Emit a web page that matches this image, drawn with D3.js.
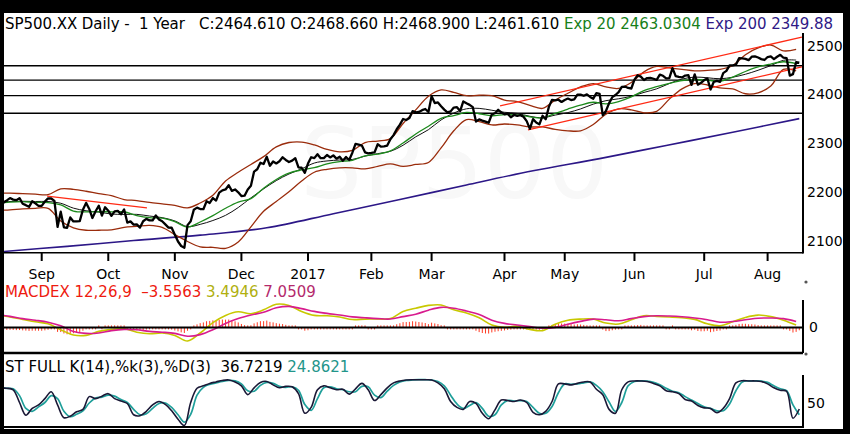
<!DOCTYPE html>
<html>
<head>
<meta charset="utf-8">
<script src="https://cdn.jsdelivr.net/npm/d3@7/dist/d3.min.js"></script>
<style>
body { margin: 0; background: #000; }
svg { display: block; font-family: "DejaVu Sans", sans-serif; }
text { white-space: pre; }
</style>
</head>
<body>
<svg id="chart" width="850" height="434"></svg>
<script>
// daily closes, 15 Aug 2016 .. 15 Aug 2017 (one per trading day)
var closes = [
  2190.15,2178.15,2182.22,2187.02,2183.87,2182.64,2186.90,2175.44,2172.47,2169.04,2180.38,2176.12,2170.95,
  2170.86,2179.98,2186.48,2186.16,2181.30,2127.81,2159.04,2127.02,2125.77,2147.26,2139.16,2139.12,2139.76,2163.12,2177.18,2164.69,2146.10,2159.93,2171.37,2151.13,2168.27,
  2161.20,2150.49,2159.73,2160.77,2153.74,2163.66,2136.73,2139.18,2132.55,2132.98,2126.50,2139.60,2144.29,2141.34,2141.16,2151.33,2143.16,2139.43,2133.04,2126.41,2126.15,
  2111.72,2097.94,2088.66,2085.18,2131.52,2139.56,2163.26,2167.48,2164.45,2164.20,2180.39,2176.94,2187.12,2181.90,2198.18,2202.94,2204.72,2213.35,2201.72,2204.66,2198.81,
  2191.08,2191.95,2204.71,2212.23,2241.35,2246.19,2259.53,2256.96,2271.72,2253.28,2262.03,2258.07,2262.53,2270.76,2265.18,2260.96,2263.79,2268.88,2249.92,2249.26,2238.83,
  2257.83,2270.75,2269.00,2276.98,2268.90,2268.90,2275.32,2270.44,2274.64,2267.89,2271.89,2263.69,2271.31,2265.20,2280.07,2298.37,2296.68,2294.69,2280.90,2278.87,
  2279.55,2280.85,2297.42,2292.56,2293.08,2294.67,2307.87,2316.10,2328.25,2337.58,2349.25,2347.22,2351.16,2365.38,2362.82,2363.81,2367.34,2369.75,2363.64,
  2395.96,2381.92,2383.12,2375.31,2368.39,2362.98,2364.87,2372.60,2373.47,2365.45,2385.26,2381.38,2378.25,2373.47,2344.02,2348.45,2345.96,2343.98,2341.59,2358.57,2361.13,2368.06,2362.72,
  2358.84,2360.16,2352.95,2357.49,2355.54,2357.16,2353.78,2344.93,2328.95,2349.01,2342.19,2338.17,2355.84,2348.69,2374.15,2388.61,2387.45,2388.77,2384.20,
  2388.33,2391.17,2388.13,2389.52,2399.29,2399.38,2396.92,2399.63,2394.44,2390.90,2402.32,2400.67,2357.03,2365.72,2381.73,2394.02,2398.42,2404.39,2415.07,2415.82,2412.91,2411.80,
  2430.06,2439.07,2436.10,2429.33,2433.14,2433.79,2431.77,2429.39,2440.35,2437.92,2432.46,2433.15,2453.46,2437.03,2435.61,2434.50,2438.30,2439.07,2419.38,2440.69,2419.70,2423.41,
  2429.01,2432.54,2409.75,2425.18,2427.43,2425.53,2443.25,2447.83,2459.27,2459.14,2460.61,2473.83,2473.45,2472.54,2469.91,2477.13,2477.83,2475.42,2472.10,2470.30,
  2476.35,2477.57,2472.16,2476.83,2480.91,2474.92,2474.02,2438.21,2441.32,2465.84,2464.61
];

var monthLabels = ["Sep","Oct","Nov","Dec","2017","Feb","Mar","Apr","May","Jun","Jul","Aug"];
var monthStart = [13,34,55,76,97,117,136,159,178,200,222,242];   // trading-day index of 1st session
var priceTicks = [2100,2200,2300,2400,2500];
var levels = [2458.5,2429,2397,2361];

// band / average series read every 4 sessions, starting at index -1
var bandStart = -1, bandStep = 4;
var sma20 = [2179,2180,2180.5,2180,2180,2176.4,2166.4,2161.0,2158.2,2154.3,2153.5,2153.6,2150.2,2146.9,2140.2,2128.4,
  2133.1,2141.0,2151.6,2167.6,2187.5,2205.9,2222.8,2236.4,2247.0,2258.9,2263.2,2265.1,2266.2,2273.1,2278.1,2283.0,
  2295.4,2312.7,2327.3,2347.3,2361.4,2370.1,2371.0,2367.2,2363.0,2360.8,2354.8,2351.8,2357.3,2362.4,2369.9,2379.7,
  2386.8,2390.7,2395.9,2403.8,2411.1,2422.0,2431.1,2435.2,2433.8,2431.8,2435.0,2441.0,2449.2,2458.7,2469.6,2470.1];
var ema20 = [2176,2178.8,2179.9,2178.1,2177.8,2173.1,2160.5,2158.6,2159.2,2158.7,2159.0,2151.2,2146.8,2145.8,2138.7,2127.6,
  2137.9,2150.9,2166.1,2178.8,2185.8,2207.3,2225.1,2238.2,2244.7,2249.5,2257.1,2261.8,2264.5,2273.8,2277.2,2283.7,
  2299.9,2318.6,2334.3,2350.7,2356.1,2362.8,2360,2355.9,2358.1,2357.6,2353.8,2351.3,2360.7,2369.7,2377.8,2383.6,
  2380.3,2385.0,2394.5,2407.4,2415.5,2422.3,2428.2,2430.2,2428.9,2426.6,2435.1,2446.7,2456.1,2462.0,2466.7,2463.0];
var bbUpper = [2197,2197,2196,2195,2194,2206,2205,2201,2196,2192,2184,2182,2178,2175,2172,2167,
  2177,2193,2222,2240,2256,2272,2292,2301,2302,2296,2287,2282,2285,2301,2304,2309,
  2340,2368,2396,2409,2404,2397,2398,2397,2388,2385,2377,2371,2388,2402,2415,2422,
  2415,2412,2424,2446,2457,2454,2451,2448,2449,2451,2459,2481,2495,2501,2489,2492];
var bbLower = [2162,2163,2165,2166,2166,2140,2126,2121,2121,2122,2127,2129,2131,2127,2112,2098,
  2087,2086,2084,2097,2128,2160,2180,2200,2222,2240,2246,2249,2249,2247,2252,2257,
  2252,2256,2260,2290,2325,2348,2344,2337,2339,2337,2333,2333,2328,2325,2325,2338,
  2359,2370,2368,2362,2365,2390,2411,2422,2419,2413,2411,2401,2403,2417,2451,2448];

// 200-day exponential average, read every 21 sessions
var ema200Step = 21;
var ema200 = [2077,2088,2100,2111,2126,2155,2184,2214,2243,2268,2295,2322,2350];

// trend lines: [startIndex, startValue, endIndex, endValue]
var trendLines = [
  [157.6,2376,252.8,2517],
  [166.4,2327,252.8,2456],
  [14.7,2191,46.2,2167]
];

// MACD 12,26,9 read every 4 sessions from index -1
var macdLine = [15.5,13,10,7,4.5,-3,-9.5,-10,-5,-2.5,-1.5,-6,-8,-7,-10,-17,
  -7,6,15,19.5,17,22,29,27.5,20,15,14.6,13,9.8,10.4,10.5,11,
  20,24,27.5,28,22,18,12,3,0,1.5,-2.5,-4,4,9,10.4,10.4,
  5.4,4.2,9.5,14.6,13.8,13,12,10,4.5,2,7,12.5,15.4,13.5,9,3];
var macdSignal = [16,13.8,11,9,6.5,2,-5,-7.5,-7,-4,-2.5,-3,-5,-6,-7.5,-11,
  -9,-3,5,11,15.4,19,24.5,26.3,23.5,20,17.5,15.5,13.2,12,11,10.5,
  13.5,16.5,21.5,25,24,20.5,16,9,5,3,1,-1,0,4,7.5,10.4,
  9.5,8.3,11,13.5,14.6,14.2,13.3,11.8,9.6,6.5,7.4,9.5,11.5,11.8,11,7.5];
// histogram, one bar per session
var macdHist = [
  -2.6,-3.0,-3.2,-3.1,-3.2,-3.4,-3.3,-3.7,-4.0,-4.4,-4.1,-4.1,-4.2,
  -4.2,-3.7,-3.0,-2.5,-2.4,-5.6,-5.8,-7.6,-8.6,-7.8,-7.3,-6.7,-6.0,-4.2,-2.2,-1.6,-2.0,-1.1,0.4,-0.2,0.7,
  0.9,0.3,0.5,0.7,0.3,0.7,-1.3,-2.2,-3.2,-3.6,-4.2,-3.6,-2.8,-2.5,-2.1,-1.1,-1.0,-1.1,-1.7,-2.4,-2.8,
  -3.9,-5.0,-6.2,-7.0,-4.2,-1.8,1.3,3.8,5.3,6.2,7.7,8.1,8.8,8.7,9.5,9.8,9.7,9.8,8.5,7.6,6.2,
  4.3,2.8,2.5,2.7,5.0,6.4,7.8,7.8,8.5,6.9,6.3,5.3,4.6,4.2,3.2,2.1,1.4,1.1,-0.8,-2.2,-4.1,
  -3.6,-2.5,-2.0,-1.1,-1.3,-1.4,-1.1,-1.3,-1.1,-1.5,-1.5,-2.1,-2.0,-2.2,-1.3,0.6,1.4,1.5,0.6,-0.3,
  -0.7,-1.0,0.0,0.1,0.3,0.4,1.4,2.5,3.9,5.2,6.6,6.7,6.9,7.7,7.3,6.7,6.2,5.5,4.1,
  5.9,5.0,4.2,2.8,1.3,-0.3,-1.1,-1.1,-1.3,-2.0,-0.8,-0.7,-0.8,-1.4,-4.2,-5.9,-7.0,-7.6,-7.7,-6.3,-5.4,-4.8,-4.3,
  -3.8,-3.2,-2.8,-2.3,-1.9,-0.8,-0.8,-1.4,-2.9,-2.7,-2.8,-2.9,-1.8,-1.5,0.8,3.1,4.3,5.0,4.9,
  4.8,4.6,4.1,3.6,3.9,3.6,3.1,2.7,1.8,1.0,1.3,1.0,-2.8,-4.6,-4.6,-3.6,-2.8,-2.0,-0.7,0.0,0.3,0.3,
  1.8,2.9,3.1,2.4,2.0,1.4,0.8,0.1,0.4,0.1,-0.4,-0.7,0.7,-0.1,-0.8,-1.5,-1.7,-1.8,-3.6,-2.9,-4.5,-4.9,
  -4.8,-4.2,-6.0,-5.3,-4.5,-3.9,-1.8,-0.4,1.4,2.5,3.2,4.3,4.6,4.5,3.9,3.9,3.6,2.9,2.0,1.1,
  1.0,0.8,0.3,0.1,0.3,-0.3,-0.6,-4.3,-6.4,-5.6,-3.6
];

// full stochastic, read every 2 sessions from index 0
var stochStep = 2;
var stochK = [79,79,76,50,24,38,45,58,72,45,19,22,31,36,62,58,63,68,58,53,48,25,23,32,45,52,46,33,16,3,
  50,79,84,89,92,95,96,92,84,66,80,91,93,86,80,83,82,68,28,40,76,84,80,76,77,67,78,89,76,54,
  66,80,90,94,96,96.5,96.5,96.5,96,90,78,52,40,36,52,48,28,17,35,55,54,52,55,50,30,25,32,52,88,88,
  86,89,92,92,77,66,36,28,76,92,94,94,93,89,84,74,72,68,56,53,44,39,38,29,38,58,90,94.5,94,94,
  93,88,80,75,73,18,36.7];
var stochD = [80,79,78,64,38,32,41,50,64,58,32,21,26,33,49,59,61,65,63,56,50,36,25,27,38,48,49,40,25,10,
  26,65,81,87,90,93,95,94,88,74,73,85,91,89,83,81,82,75,46,34,58,80,82,78,76,72,72,83,82,65,
  60,73,85,92,95,96,96.5,96.5,96,93,84,65,47,38,44,50,38,22,25,45,54,53,54,52,40,28,28,42,70,88,
  87,88,90,92,85,72,51,32,50,84,93,94,93.5,91,86,79,73,70,62,55,48,41,38,33,33,47,74,92,94,94,
  93.5,91,84,78,74,45,24.9];

var svg = d3.select("#chart");
var plotL = 4, plotR = 803;

var x = d3.scaleLinear().domain([0, 252]).range([0.5, 799.3]);
var yMain = d3.scaleLinear().domain([2100, 2500]).range([240.5, 45.5]);
var yMacd = d3.scaleLinear().domain([-32, 34]).range([353, 300.2]);
var yStoch = d3.scaleLinear().domain([0, 100]).range([427, 378]);

function sampled(values, start, step) {
  return values.map(function(v, j) { return {i: start + step * j, v: v}; });
}

// white sheet inside the black frame
svg.append("rect").attr("x", 4).attr("y", 13).attr("width", 839).attr("height", 416).attr("fill", "#fff");

var defs = svg.append("defs");
function clip(id, y0, y1) {
  defs.append("clipPath").attr("id", id).append("rect")
    .attr("x", plotL).attr("y", y0).attr("width", plotR - plotL).attr("height", y1 - y0);
}
clip("cMain", 33, 252);
clip("cMacd", 300, 352);
clip("cStoch", 374, 427);

// ---------- main price pane ----------
var main = svg.append("g").attr("clip-path", "url(#cMain)");

main.append("text").attr("x", 300).attr("y", 198).attr("font-size", 98)
  .attr("fill", "#f8f8f8").text("SP500");

main.selectAll("line.level").data(levels).join("line")
  .attr("class", "level")
  .attr("x1", plotL).attr("x2", plotR)
  .attr("y1", d => yMain(d)).attr("y2", d => yMain(d))
  .attr("stroke", "#000").attr("stroke-width", 1.3);

var smooth = d3.line().x(d => x(d.i)).y(d => yMain(d.v)).curve(d3.curveCatmullRom.alpha(0.5));

main.append("path").datum(sampled(ema200, 0, ema200Step)).attr("d", smooth)
  .attr("fill", "none").attr("stroke", "#2c1787").attr("stroke-width", 1.6);
[bbUpper, bbLower].forEach(function(s) {
  main.append("path").datum(sampled(s, bandStart, bandStep)).attr("d", smooth)
    .attr("fill", "none").attr("stroke", "#9a2c0c").attr("stroke-width", 1.3);
});
main.append("path").datum(sampled(sma20, bandStart, bandStep)).attr("d", smooth)
  .attr("fill", "none").attr("stroke", "#111").attr("stroke-width", 1);
main.append("path").datum(sampled(ema20, bandStart, bandStep)).attr("d", smooth)
  .attr("fill", "none").attr("stroke", "#1d8a1d").attr("stroke-width", 1.3);

main.selectAll("line.trend").data(trendLines).join("line")
  .attr("class", "trend")
  .attr("x1", d => x(d[0])).attr("y1", d => yMain(d[1]))
  .attr("x2", d => x(d[2])).attr("y2", d => yMain(d[3]))
  .attr("stroke", "#ff2a14").attr("stroke-width", 1.3);

main.append("path").datum(closes)
  .attr("d", d3.line().x((d, i) => x(i)).y(d => yMain(d)))
  .attr("fill", "none").attr("stroke", "#000").attr("stroke-width", 2.3)
  .attr("stroke-linejoin", "round");

// axes of the main pane
svg.append("line").attr("x1", plotL).attr("x2", plotR).attr("y1", 252.7).attr("y2", 252.7)
  .attr("stroke", "#000").attr("stroke-width", 1.6);
svg.append("line").attr("x1", plotR).attr("x2", plotR).attr("y1", 33).attr("y2", 253.5)
  .attr("stroke", "#000").attr("stroke-width", 2);

svg.selectAll("line.mtick").data(monthStart).join("line")
  .attr("class", "mtick")
  .attr("x1", d => x(d)).attr("x2", d => x(d)).attr("y1", 253).attr("y2", 261)
  .attr("stroke", "#000").attr("stroke-width", 2);
svg.selectAll("text.mlab").data(monthLabels).join("text")
  .attr("class", "mlab")
  .attr("x", (d, k) => x(monthStart[k])).attr("y", 279)
  .attr("text-anchor", "middle").attr("font-size", 14).attr("fill", "#000")
  .text(d => d);
svg.selectAll("text.plab").data(priceTicks).join("text")
  .attr("class", "plab")
  .attr("x", 807).attr("y", d => yMain(d)).attr("dy", "0.36em")
  .attr("font-size", 14).attr("fill", "#000")
  .text(d => d);

var title = svg.append("text").attr("x", 5).attr("y", 29).attr("font-size", 15)
  .attr("letter-spacing", -0.05);
title.append("tspan").attr("fill", "#000")
  .text("SP500.XX Daily -  1 Year   C:2464.610 O:2468.660 H:2468.900 L:2461.610 ");
title.append("tspan").attr("fill", "#17801a").text("Exp 20 2463.0304 ");
title.append("tspan").attr("fill", "#2f1a86").text("Exp 200 2349.88");

// ---------- MACD pane ----------
var macdG = svg.append("g").attr("clip-path", "url(#cMacd)");
var zeroY = yMacd(0);
macdG.selectAll("line.bar").data(macdHist).join("line")
  .attr("class", "bar")
  .attr("x1", (d, i) => x(i)).attr("x2", (d, i) => x(i))
  .attr("y1", zeroY)
  .attr("y2", d => Math.abs(yMacd(d) - zeroY) < 2 ? zeroY + (d < 0 ? 2 : -2) : yMacd(d))
  .attr("stroke", "#ff3a22").attr("stroke-width", 1);

var macdPath = d3.line().x(d => x(d.i)).y(d => yMacd(d.v)).curve(d3.curveCatmullRom.alpha(0.5));
macdG.append("path").datum(sampled(macdLine, bandStart, bandStep)).attr("d", macdPath)
  .attr("fill", "none").attr("stroke", "#c8c800").attr("stroke-width", 1.6);
macdG.append("path").datum(sampled(macdSignal, bandStart, bandStep)).attr("d", macdPath)
  .attr("fill", "none").attr("stroke", "#d81b8e").attr("stroke-width", 1.6);

svg.append("line").attr("x1", plotL).attr("x2", plotR).attr("y1", zeroY).attr("y2", zeroY)
  .attr("stroke", "#000").attr("stroke-width", 2);
svg.append("line").attr("x1", plotL).attr("x2", plotR).attr("y1", 353).attr("y2", 353)
  .attr("stroke", "#000").attr("stroke-width", 2.5);
svg.append("line").attr("x1", plotR).attr("x2", plotR).attr("y1", 300).attr("y2", 353)
  .attr("stroke", "#000").attr("stroke-width", 2);
svg.append("text").attr("x", 809).attr("y", zeroY).attr("dy", "0.36em")
  .attr("font-size", 14).text("0");

var mt = svg.append("text").attr("x", 5).attr("y", 297).attr("font-size", 15);
mt.append("tspan").attr("fill", "#ee1b10").text("MACDEX 12,26,9  –3.5563 ");
mt.append("tspan").attr("fill", "#b0b010").text("3.4946 ");
mt.append("tspan").attr("fill", "#b42a6c").text("7.0509");

// ---------- stochastic pane ----------
var stG = svg.append("g").attr("clip-path", "url(#cStoch)");
var stPath = d3.line().x(d => x(d.i)).y(d => yStoch(d.v)).curve(d3.curveCatmullRom.alpha(0.5));
stG.append("path").datum(sampled(stochD, 0, stochStep)).attr("d", stPath)
  .attr("fill", "none").attr("stroke", "#1f9f9a").attr("stroke-width", 1.7);
stG.append("path").datum(sampled(stochK, 0, stochStep)).attr("d", stPath)
  .attr("fill", "none").attr("stroke", "#1a1836").attr("stroke-width", 1.6);

svg.append("line").attr("x1", plotL).attr("x2", plotR).attr("y1", 427).attr("y2", 427)
  .attr("stroke", "#000").attr("stroke-width", 2);
svg.append("line").attr("x1", plotR).attr("x2", plotR).attr("y1", 375).attr("y2", 428)
  .attr("stroke", "#000").attr("stroke-width", 2);
svg.append("text").attr("x", 807).attr("y", yStoch(50)).attr("dy", "0.36em")
  .attr("font-size", 14).text("50");

var stt = svg.append("text").attr("x", 5).attr("y", 371.5).attr("font-size", 15);
stt.append("tspan").attr("fill", "#000").text("ST FULL K(14),%k(3),%D(3)  36.7219 ");
stt.append("tspan").attr("fill", "#23958a").text("24.8621");

// pane size handles
svg.selectAll("circle.handle").data([282, 354]).join("circle")
  .attr("class", "handle").attr("cx", 806).attr("cy", d => d).attr("r", 1.6).attr("fill", "#555");
</script>
</body>
</html>
